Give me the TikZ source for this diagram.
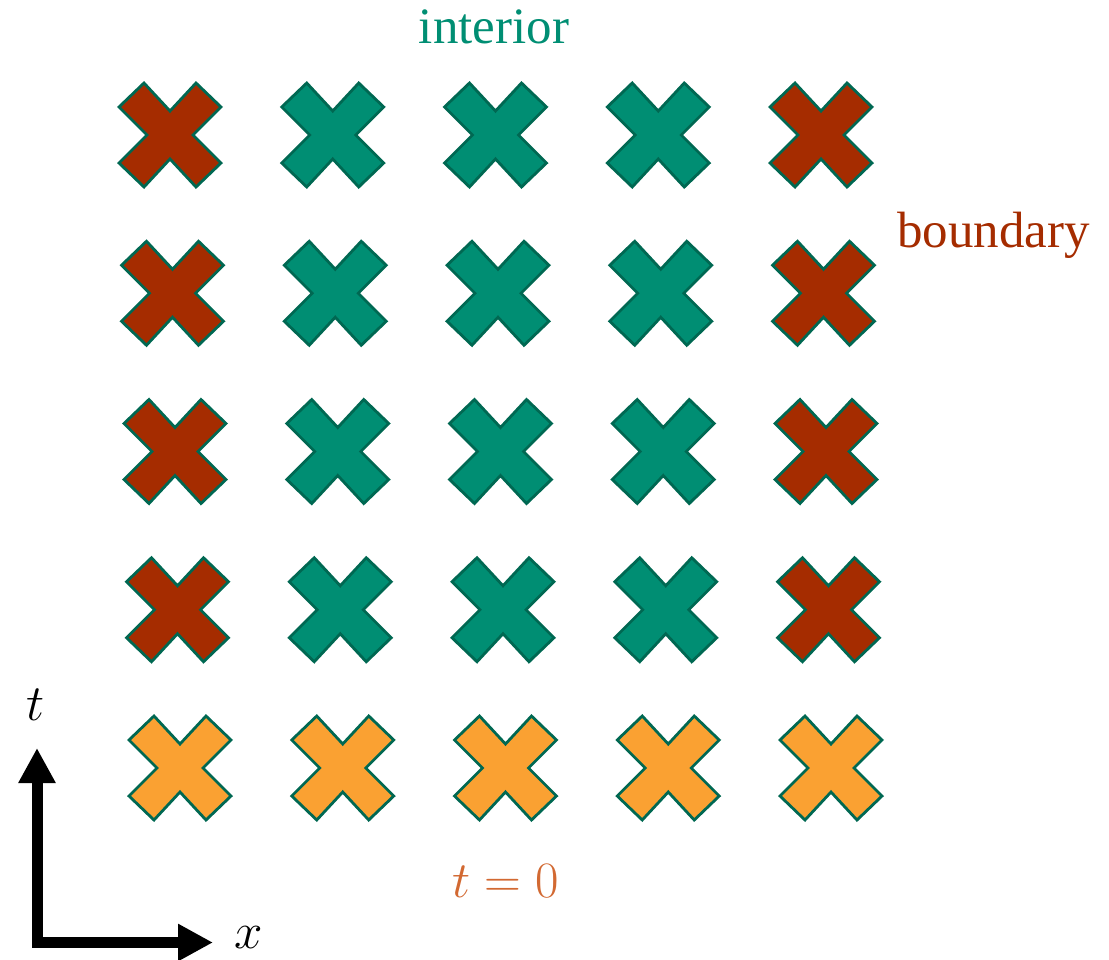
\RequirePackage{fix-cm}
\documentclass[tikz,border=0pt]{standalone}
\usepackage{fontspec}
\setmainfont{Liberation Serif}
\usetikzlibrary{arrows.meta}
\definecolor{bred}{RGB}{165,44,0}
\definecolor{iteal}{RGB}{0,142,115}
\definecolor{iorange}{RGB}{250,161,50}
\definecolor{edgeteal}{RGB}{0,104,82}
\definecolor{tzero}{RGB}{210,105,50}
\tikzset{
  crossshape/.style={draw=edgeteal, line width=2.8pt, line join=miter},
  bfill/.style={crossshape, fill=bred},
  ifill/.style={crossshape, fill=iteal},
  ofill/.style={crossshape, fill=iorange},
  lbl/.style={inner sep=0pt, font=\fontsize{51}{60}\selectfont},
  axis/.style={line width=11pt, line join=miter,
    {Triangle[length=35pt,width=35pt]}-{Triangle[length=35pt,width=35pt]}},
}
\newcommand{\mycross}[3]{%
  \path[#3] (#1,#2) ++(0,24) -- ++(26,28) -- ++(25,-24) -- ++(-28,-28)
    -- ++(28,-28) -- ++(-25,-24) -- ++(-26,28) -- ++(-26,-28) -- ++(-25,24)
    -- ++(28,28) -- ++(-28,28) -- ++(25,24) -- cycle;}
\begin{document}
\begin{tikzpicture}[x=1pt,y=-1pt]
\useasboundingbox (0,0) rectangle (1109,959);
\foreach \i in {0,...,4}{
  \foreach \j in {0,...,4}{
    \pgfmathsetmacro{\cx}{170+162.75*\j+2.5*\i}
    \pgfmathsetmacro{\cy}{135+158.25*\i}
    \ifnum\i=4
      \mycross{\cx}{\cy}{ofill}
    \else
      \ifnum\j=0 \mycross{\cx}{\cy}{bfill}\else
      \ifnum\j=4 \mycross{\cx}{\cy}{bfill}\else
      \mycross{\cx}{\cy}{ifill}\fi\fi
    \fi
  }
}
\node[lbl, text=iteal, anchor=base] (interior) at (494,43) {interior};
\node[lbl, text=bred, anchor=base west] (boundary) at (897,247) {boundary};
\node[lbl, text=tzero, anchor=base] (tzero) at (506,897) {$t=0$};
\node[lbl, anchor=base] (tlab) at (36,720) {$t$};
\node[lbl, anchor=base] (xlab) at (249,948) {$x$};
\coordinate (O) at (37,942.5);
\coordinate (T) at (37,748);
\coordinate (X) at (213,942.5);
\draw[axis] (T) -- (O) -- (X);
\end{tikzpicture}
\end{document}
